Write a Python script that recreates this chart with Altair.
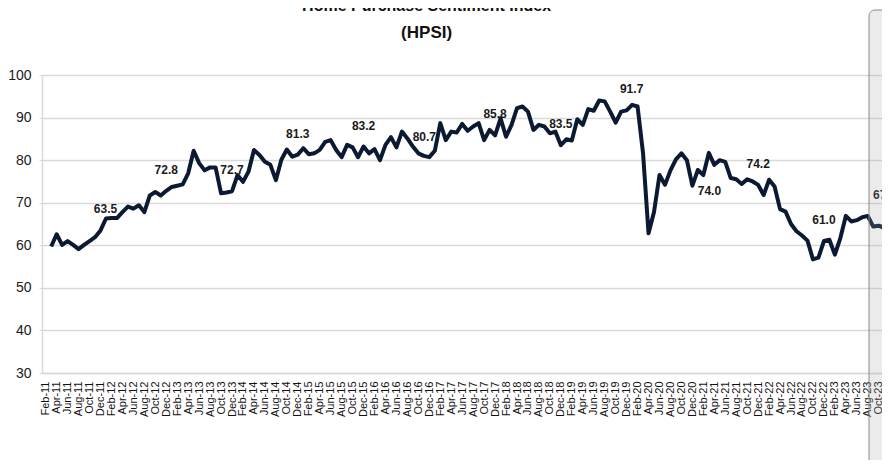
import altair as alt
import pandas as pd

# Home Purchase Sentiment Index, monthly Mar-11 .. Dec-23
hpsi = [
    59.7, 62.6, 60.1, 61.0, 60.1, 59.1, 60.1, 61.0, 61.9, 63.5,          # Mar-11 .. Dec-11
    66.3, 66.4, 66.4, 67.8, 69.1, 68.6, 69.4, 67.8, 71.7, 72.5, 71.7, 72.8,  # 2012
    73.7, 74.0, 74.3, 76.9, 82.2, 79.3, 77.6, 78.3, 78.3, 72.2, 72.4, 72.7,  # 2013
    76.5, 74.9, 77.3, 82.4, 81.2, 79.6, 78.9, 75.3, 80.1, 82.5, 80.8, 81.3,  # 2014
    82.8, 81.4, 81.6, 82.4, 84.3, 84.7, 82.4, 80.7, 83.6, 83.0, 80.7, 83.2,  # 2015
    81.6, 82.6, 80.0, 83.6, 85.4, 83.0, 86.7, 85.1, 83.2, 81.6, 81.0, 80.7,  # 2016
    82.2, 88.7, 84.7, 86.7, 86.5, 88.5, 86.9, 87.9, 88.7, 84.7, 87.1, 85.8,  # 2017
    89.8, 85.5, 88.3, 92.2, 92.6, 91.4, 87.1, 88.3, 87.9, 86.3, 86.7, 83.5,  # 2018
    84.9, 84.6, 89.6, 88.3, 92.0, 91.6, 94.0, 93.8, 91.4, 88.8, 91.4, 91.7,  # 2019
    93.0, 92.6, 81.6, 62.8, 67.8, 76.5, 74.2, 77.6, 80.2, 81.6, 80.0, 74.0,  # 2020
    77.7, 76.5, 81.7, 78.9, 80.0, 79.6, 75.8, 75.5, 74.4, 75.5, 75.0, 74.2,  # 2021
    71.8, 75.4, 73.8, 68.5, 67.9, 65.0, 63.3, 62.3, 61.1, 56.7, 57.1, 61.0,  # 2022
    61.3, 57.8, 61.7, 66.9, 65.6, 65.9, 66.6, 66.9, 64.4, 64.6, 64.1, 67.2,  # 2023
]
months = list(pd.date_range("2011-03-01", periods=len(hpsi), freq="MS").strftime("%b-%y"))
month_index = list(range(1, len(hpsi) + 1))  # 0 = Feb-11

label_months = ["Dec-11", "Dec-12", "Dec-13", "Dec-14", "Dec-15", "Dec-16", "Dec-17",
                "Dec-18", "Dec-19", "Dec-20", "Dec-21", "Dec-22", "Dec-23"]
label_texts = ["63.5", "72.8", "72.7", "81.3", "83.2", "80.7", "85.8",
               "83.5", "91.7", "74.0", "74.2", "61.0", "67.2"]
label_side = ["above_right", "above", "above", "above", "above", "above_left", "above",
              "above", "above_right", "below_right", "above", "above", "above_left"]

title_lines = ["Home Purchase Sentiment Index", "(HPSI)"]
y_ticks = [30, 40, 50, 60, 70, 80, 90, 100]
x_ticks = list(range(0, 156, 2))

df = pd.DataFrame({"idx": month_index, "month": months, "hpsi": hpsi})
lab = pd.DataFrame({"month": label_months, "text": label_texts, "side": label_side})
lab = lab.merge(df, on="month")

FONT = "'Liberation Sans Narrow', 'Arial Narrow', 'Liberation Sans', Arial, sans-serif"

W, H = 840, 298

x_axis = alt.Axis(
    values=x_ticks,
    labelExpr="['Jan','Feb','Mar','Apr','May','Jun','Jul','Aug','Sep','Oct','Nov','Dec'][(datum.value+1)%12] + '-' + (11 + floor((datum.value+1)/12))",
    labelAngle=270,
    labelOverlap=False,
    labelFlush=False,
    labelFont=FONT,
    labelFontSize=11,
    labelColor="#111111",
    labelPadding=8,
    ticks=False,
    grid=False,
    domainColor="#d9d9d9",
    domainWidth=1.5,
    title=None,
)
y_axis = alt.Axis(
    values=y_ticks,
    grid=True,
    gridColor="#d9d9d9",
    gridWidth=1.5,
    domainColor="#d9d9d9",
    domainWidth=1.5,
    tickColor="#d9d9d9",
    tickSize=3,
    labelFont=FONT,
    labelFontSize=14,
    labelColor="#1a1a1a",
    labelPadding=8,
    labelOverlap=False,
    title=None,
)
x_scale = alt.Scale(domain=[-0.675, 152.6], nice=False, zero=False)
y_scale = alt.Scale(domain=[30, 100], nice=False, zero=False)

x_enc = alt.X("idx:Q", scale=x_scale, axis=x_axis)
y_enc = alt.Y("hpsi:Q", scale=y_scale, axis=y_axis)

line = alt.Chart(df).mark_line(color="#0b1933", strokeWidth=4, strokeJoin="round").encode(x=x_enc, y=y_enc)


def label_layer(side, dx, dy):
    return alt.Chart(lab).transform_filter(f"datum.side == '{side}'").mark_text(
        font=FONT, fontSize=12, fontWeight="bold", color="#1a1a1a", dx=dx, dy=dy, baseline="middle"
    ).encode(x=x_enc, y=y_enc, text="text:N")


lab_above = label_layer("above", 0, -21)
lab_above_left = label_layer("above_left", -5, -20)
lab_above_right = label_layer("above_right", 5, -21)
lab_below = label_layer("below_right", 17, 5)

t1 = alt.Chart(pd.DataFrame({"t": [title_lines[0]]})).mark_text(
    font=FONT, fontSize=16, fontWeight="bold", color="#111111", baseline="alphabetic", align="center"
).encode(x=alt.value(384.6), y=alt.value(-64), text="t:N")
t2 = alt.Chart(pd.DataFrame({"t": [title_lines[1]]})).mark_text(
    font=FONT, fontSize=17, fontWeight="bold", color="#111111", baseline="alphabetic", align="center"
).encode(x=alt.value(384.6), y=alt.value(-37.5), text="t:N")

panel = alt.Chart(pd.DataFrame({"p": [1]})).mark_rect(
    fill="#a1a1a1", fillOpacity=0.21, stroke="#8a8a8a", strokeWidth=1, cornerRadiusTopLeft=6
).encode(x=alt.value(827), x2=alt.value(900), y=alt.value(-65), y2=alt.value(420))

chart = alt.layer(line, lab_above, lab_above_left, lab_above_right, lab_below, t1, t2, panel).properties(
    width=W, height=H,
    autosize=alt.AutoSizeParams(type="none"),
    padding={"left": 34, "top": 67, "right": 0, "bottom": 87},
).configure_view(stroke=None).configure(background="white").configure_axis(labelOverlap=False)

chart.save("out.html", embed_options={"renderer": "svg", "actions": False})
